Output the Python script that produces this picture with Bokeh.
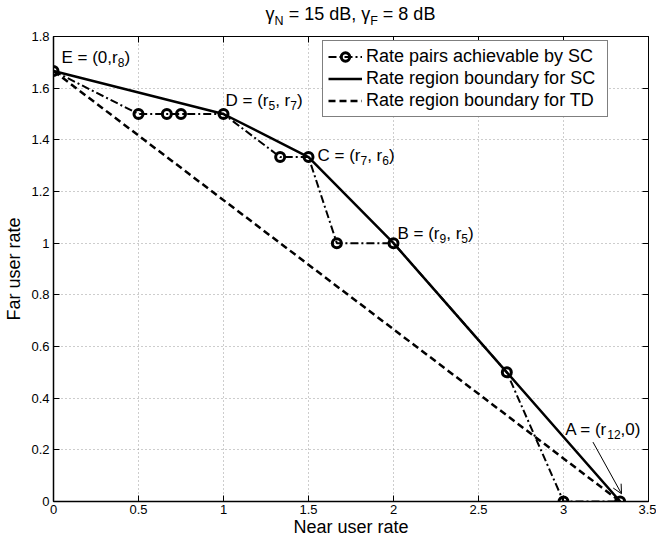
from bokeh.plotting import figure
from bokeh.models import (Range1d, LinearAxis, FixedTicker, Legend, LegendItem,
                          Label, Arrow, OpenHead, Div)
from bokeh.layouts import column
from bokeh.embed import file_html
from bokeh.resources import INLINE

# ---------------- data ----------------
sc_x = [0.0, 0.5, 2/3, 0.75, 1.0, 4/3, 1.5, 5/3, 2.0, 8/3, 3.0, 10/3]
sc_y = [5/3, 1.5, 1.5, 1.5, 1.5, 4/3, 4/3, 1.0, 1.0, 0.5, 0.0, 0.0]

bnd_x = [0.0, 1.0, 1.5, 2.0, 8/3, 10/3]
bnd_y = [5/3, 1.5, 4/3, 1.0, 0.5, 0.0]

td_x = [0.0, 10/3]
td_y = [5/3, 0.0]

x_ticks = [0, 0.5, 1, 1.5, 2, 2.5, 3, 3.5]
x_tick_labels = ["0", "0.5", "1", "1.5", "2", "2.5", "3", "3.5"]
y_ticks = [0, 0.2, 0.4, 0.6, 0.8, 1, 1.2, 1.4, 1.6, 1.8]
y_tick_labels = ["0", "0.2", "0.4", "0.6", "0.8", "1", "1.2", "1.4", "1.6", "1.8"]

series_labels = ["Rate pairs achievable by SC",
                 "Rate region boundary for SC",
                 "Rate region boundary for TD"]

# point annotations: (index in boundary arrays, [(text, is_subscript), ...])
point_notes = [
    (0, [("E = (0,r", 0), ("8", 1), (")", 0)]),
    (1, [("D = (r", 0), ("5", 1), (", r", 0), ("7", 1), (")", 0)]),
    (2, [("C = (r", 0), ("7", 1), (", r", 0), ("6", 1), (")", 0)]),
    (3, [("B = (r", 0), ("9", 1), (", r", 0), ("5", 1), (")", 0)]),
    (5, [("A = (r", 0), ("12", 1), (",0)", 0)]),
]
title_pieces = [("γ", 0), ("N", 1), (" = 15 dB, γ", 0), ("F", 1), (" = 8 dB", 0)]

FONT = "Liberation Sans"

# Arial / Liberation Sans advance widths (per 1000 em)
W = {" ": 278, "(": 333, ")": 333, ",": 278, "=": 584, "r": 333, "E": 667,
     "D": 722, "C": 722, "B": 667, "A": 667, "N": 722, "F": 611, "d": 556,
     "γ": 500}
for ch in "0123456789":
    W[ch] = 556


def tw(s, size):
    return sum(W.get(c, 556) for c in s) * size / 1000.0


TITLE_H = 28
p = figure(width=656, height=539 - TITLE_H, x_range=Range1d(0, 3.5), y_range=Range1d(0, 1.8),
           output_backend="svg", toolbar_location=None,
           min_border_left=53, min_border_right=8, min_border_top=8, min_border_bottom=38)

p.background_fill_color = "white"
p.border_fill_color = "white"
p.outline_line_color = "black"
p.outline_line_width = 1

# main axes
for ax, ticks, labels in ((p.xaxis[0], x_ticks, x_tick_labels), (p.yaxis[0], y_ticks, y_tick_labels)):
    ax.ticker = FixedTicker(ticks=ticks)
    ax.major_label_overrides = dict(zip(ticks, labels))
    ax.major_label_text_font = FONT
    ax.major_label_text_font_size = "13px"
    ax.major_label_text_color = "black"
    ax.major_tick_in = 6
    ax.major_tick_out = 0
    ax.minor_tick_line_color = None
    ax.axis_line_color = "black"
    ax.axis_line_width = 1.5
    ax.major_tick_line_color = "black"
    ax.axis_label_text_font = FONT
    ax.axis_label_text_font_size = "18px"
    ax.axis_label_text_font_style = "normal"
    ax.axis_label_text_color = "black"

p.xaxis.axis_label = "Near user rate"
p.yaxis.axis_label = "Far user rate"
p.xaxis.major_label_standoff = 3
p.xaxis.axis_label_standoff = 0
p.yaxis.major_label_standoff = 4
p.yaxis.axis_label_standoff = 4

# mirrored tick marks (top / right), no labels
for loc, ticks in (("above", x_ticks), ("right", y_ticks)):
    ax = LinearAxis(ticker=FixedTicker(ticks=ticks), major_label_text_font_size="0px",
                    major_label_text_color=None, major_label_text_alpha=0,
                    major_label_standoff=0, major_tick_in=6, major_tick_out=0,
                    minor_tick_line_color=None, axis_line_color="black",
                    major_tick_line_color="black", axis_line_width=1)
    p.add_layout(ax, loc)

# grid
p.xgrid.ticker = FixedTicker(ticks=x_ticks)
p.ygrid.ticker = FixedTicker(ticks=y_ticks)
for g in (p.xgrid, p.ygrid):
    g.grid_line_color = "#9a9a9a"
    g.grid_line_dash = "1 3"
    g.grid_line_width = 1

# series
r_td = p.line(td_x, td_y, line_color="black", line_width=2.5, line_dash="7 4")
r_bnd = p.line(bnd_x, bnd_y, line_color="black", line_width=2.5)
r_sc_line = p.line(sc_x, sc_y, line_color="black", line_width=2, line_dash="8 3 2 3")
r_sc_pts = p.scatter(sc_x, sc_y, marker="circle", size=9, line_width=3,
                     line_color="black", fill_color=None)

legend = Legend(items=[LegendItem(label=series_labels[0], renderers=[r_sc_line, r_sc_pts]),
                       LegendItem(label=series_labels[1], renderers=[r_bnd]),
                       LegendItem(label=series_labels[2], renderers=[r_td])],
                location=(269, 384), label_text_font=FONT, label_text_font_size="18px",
                label_text_color="black", glyph_width=34, glyph_height=21, label_height=21,
                label_width=236, spacing=1, padding=5, margin=0, label_standoff=4,
                border_line_color="black", border_line_width=1,
                background_fill_color="white", background_fill_alpha=1)
p.add_layout(legend)


def rich(x, y, pieces, dx, dy, size, subsize):
    off = dx
    for t, s in pieces:
        fs = subsize if s else size
        p.add_layout(Label(x=x, y=y, x_offset=off, y_offset=dy - (5 if s else 0),
                           text=t, text_font=FONT, text_font_size=f"{fs}px",
                           text_color="black", text_align="left",
                           text_baseline="alphabetic", level="overlay"))
        off += tw(t, fs)


# offsets (pixels) of each point note relative to its point
note_offsets = {0: (8, 13), 1: (2, 14), 2: (9, 2), 3: (4, 10), 5: (-55, 72)}
for idx, pieces in point_notes:
    dx, dy = note_offsets[idx]
    rich(bnd_x[idx], bnd_y[idx], pieces, dx, dy, 17, 12)

# arrow pointing to A
ax_, ay_ = bnd_x[5], bnd_y[5]
p.add_layout(Arrow(end=OpenHead(size=9, line_width=1, line_color="black"),
                   x_start=ax_ - 0.16, y_start=ay_ + 0.23,
                   x_end=ax_ + 0.008, y_end=ay_ + 0.03,
                   line_color="black", line_width=1))

# title (HTML, so that subscripts are real subscripts)
title_html = "".join(
    f'<sub style="font-size:12.5px;vertical-align:-5px;line-height:0">{t}</sub>' if s else t
    for t, s in title_pieces)
title = Div(width=656, height=TITLE_H, margin=0,
            text=f'<div style="width:595px;margin-left:53px;text-align:center;'
                 f'font-family:\'{FONT}\';font-size:18px;line-height:20px;padding-top:4px;'
                 f'color:black;white-space:nowrap">{title_html}</div>')

layout = column(title, p, spacing=0, margin=0)
open("out.html", "w").write(file_html(layout, INLINE))
